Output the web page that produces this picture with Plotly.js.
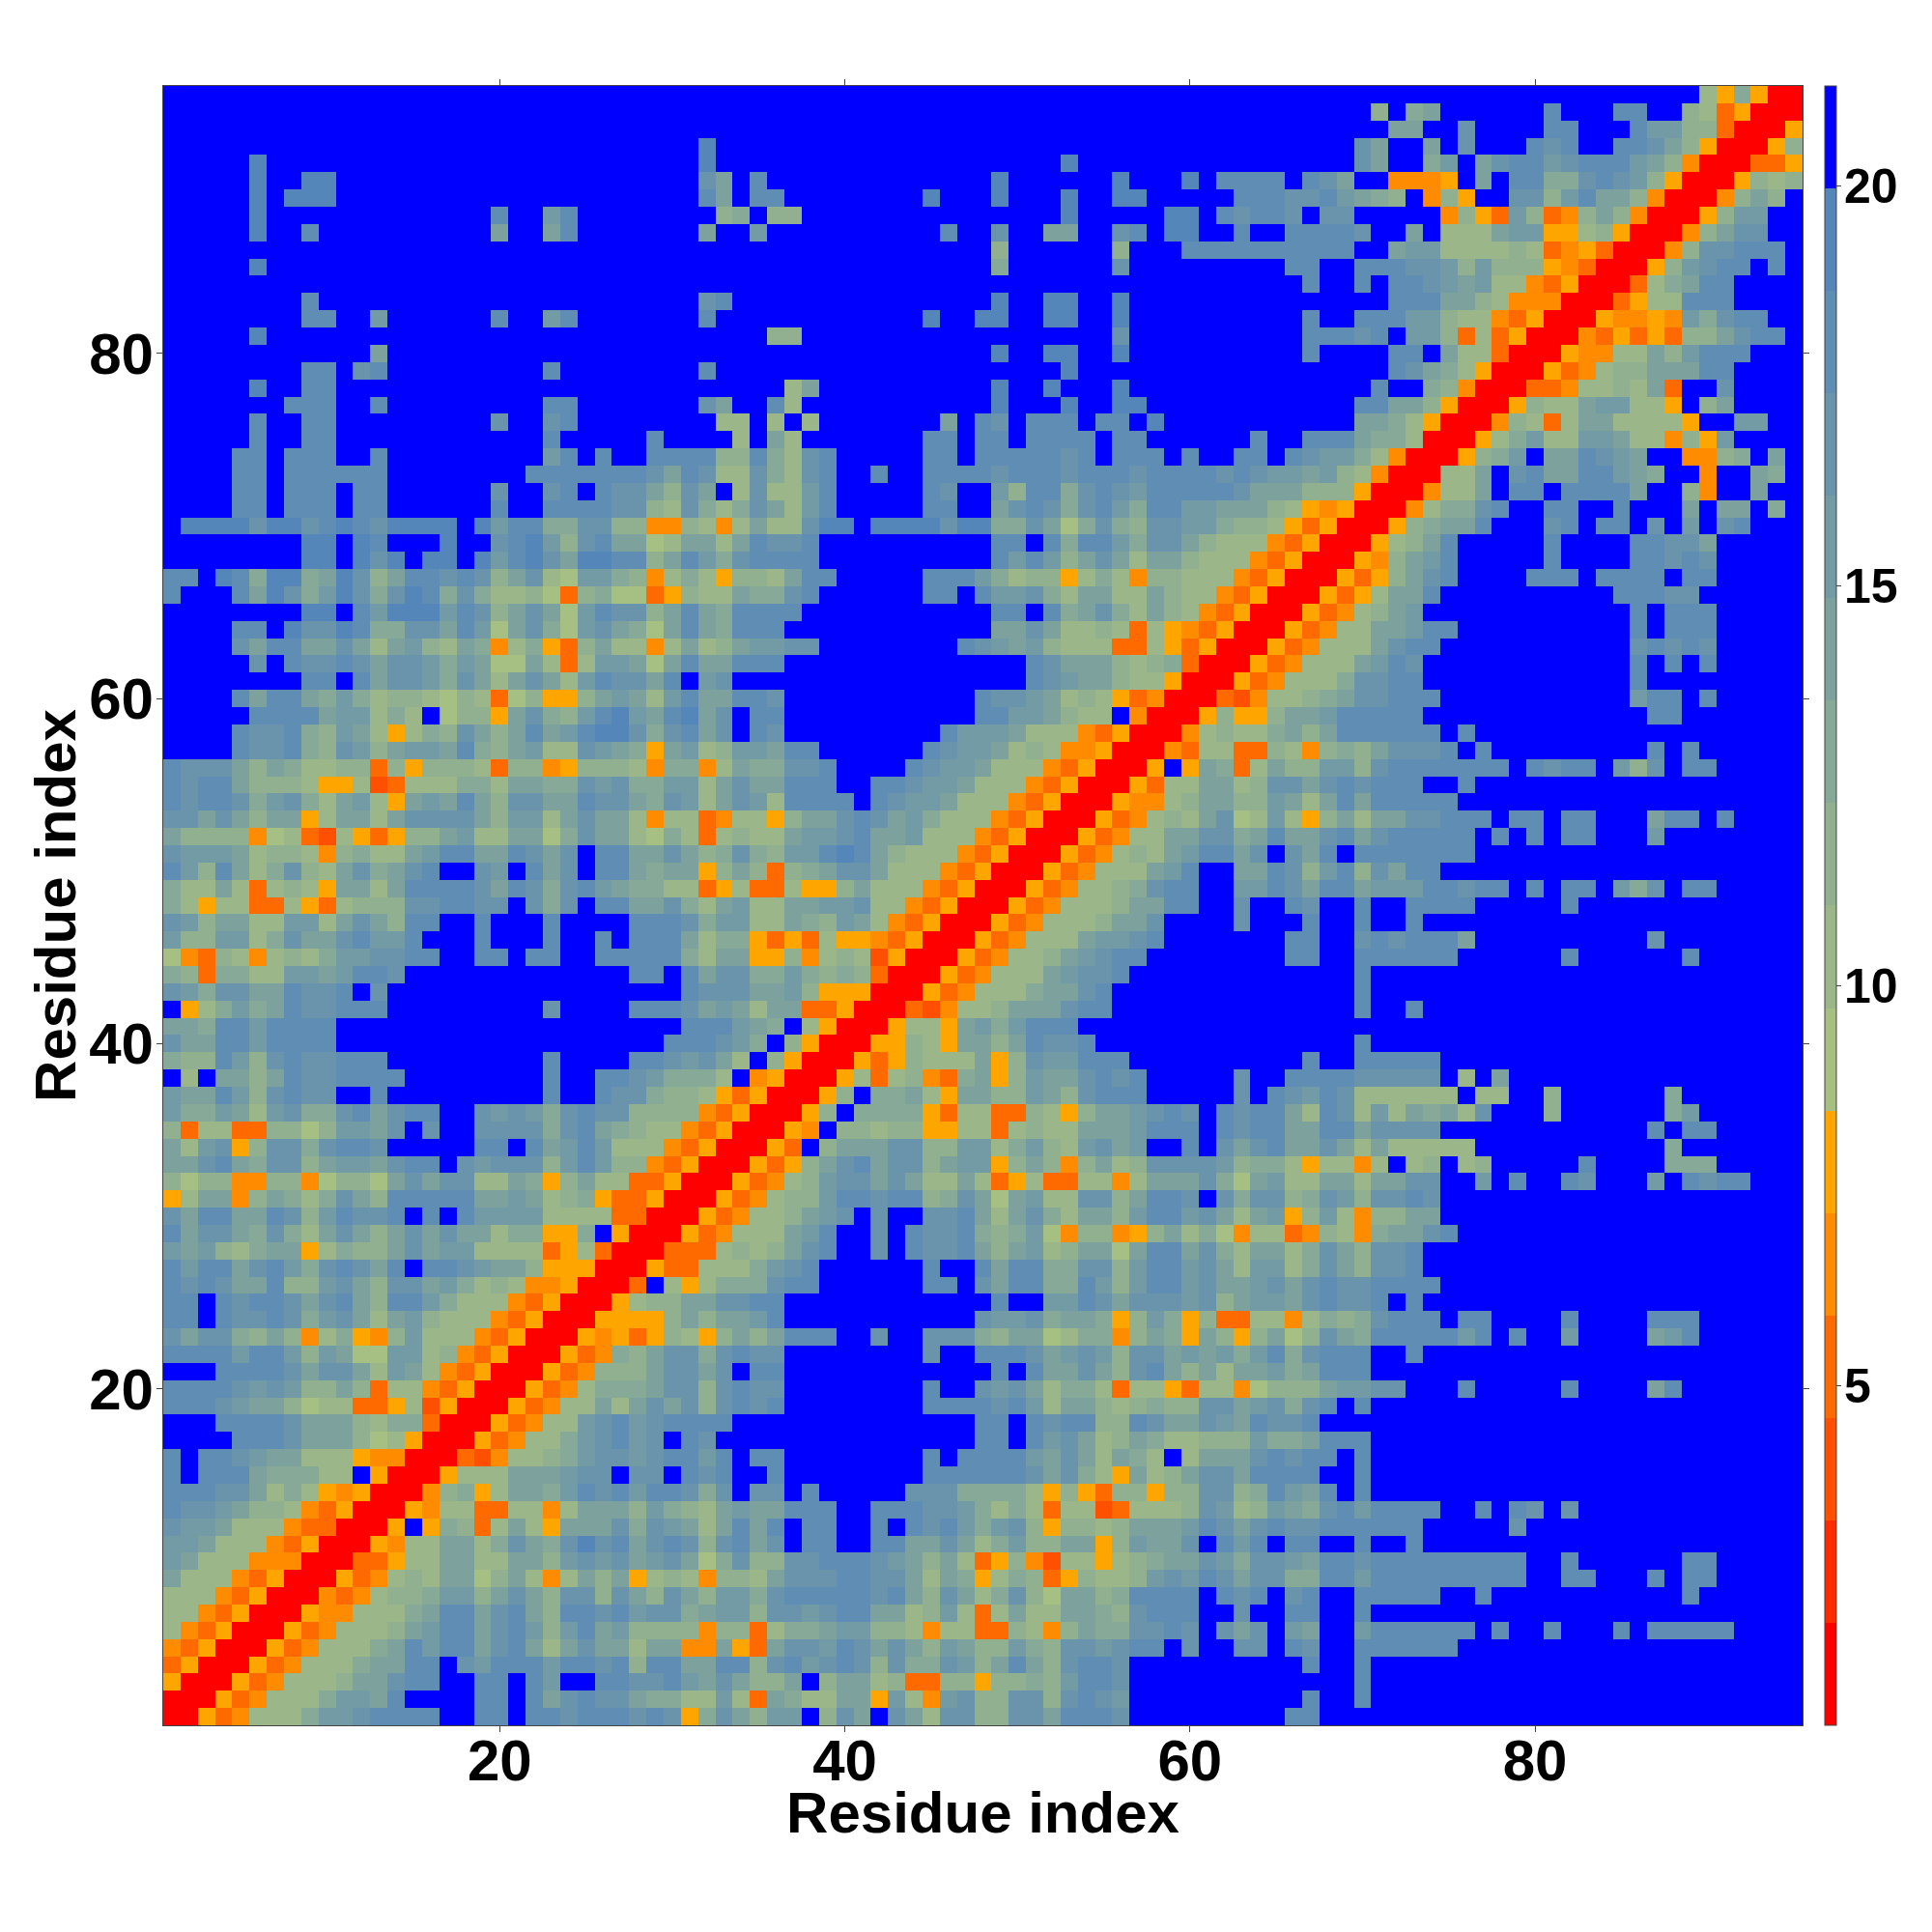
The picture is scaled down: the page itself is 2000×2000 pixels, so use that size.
<!DOCTYPE html>
<html>
<head>
<meta charset="utf-8">
<script src="https://cdn.plot.ly/plotly-3.0.1.min.js"></script>
<style>html,body{margin:0;padding:0;background:#fff}</style>
</head>
<body>
<div id="chart" style="width:2000px;height:2000px"></div>
<script>
// Distance band of each cell, one hex digit per residue, top row is residue 95.
const rows = [
"ffffffffff ffffffffff ffffffffff ffffffffff ffffffffff ffffffffff ffffffffff ffffffffff fffffffff7 59500",
"ffffffffff ffffffffff ffffffffff ffffffffff ffffffffff ffffffffff ffffffffff 8f9affffff dfffddff87 35000",
"ffffffffff ffffffffff ffffffffff ffffffffff ffffffffff ffffffffff ffffffffff faaffcffff ddfffdbb88 30005",
"ffffffffff ffffffffff ffffffffff feffffffff ffffffffff ffffffffff fffffffffc affafcfffd cdffddca85 00058",
"fffffeffff ffffffffff ffffffffff feffffffff ffffffffff ffefffffff fffffffffc aff9bfacdd bcdddba840 00335",
"fffffeffee ffffffffff ffffffffff fcafdfffff ffffffffef fffffefffe fddddfdcaf f4445fafdd 99cdcb8500 05878",
"fffffefeee ffffffffff ffffffffff fdafddffff ffffefffef ffeffeefff ffdddccdba 98f485ffcc 8bdaa84000 48a8f",
"fffffeffff fffffffffd ffbdffffff ff89f88fff ffffffffff ffefffffee fdcddcfccf ffff4853b8 348a840005 8bbff",
"fffffeffdf fffffffffa ffadffffff faffbfffff fffffdffcf faaffcdfee ffdffddddc ffaf777abb 5578500048 accff",
"ffffffffff ffffffffff ffffffffff ffffffffff ffffffff8f fffff8fffd dddddddddf fabb777787 345300048c cdddf",
"fffffeffff ffffffffff ffffffffff ffffffffff ffffffff9f fffffcffff fffffddffd ddccb8b888 54300058bc ddfdf",
"ffffffffff ffffffffff ffffffffff ffffffffff ffffffffff ffffffffff ffffffdffd fddcbab774 35000379ad dffff",
"ffffffffdf ffffffffff ffffffffff fcdfffffff ffffffffef feeffeffff ffffffffff fdddaa8744 40003577dd dffff",
"ffffffffdd ffbffffffd ffbdffffff fdffffffff ffffeffeef feeffeffff ffffffdffd ddbb877435 00054454b9 cddff",
"fffffeffff ffffffffff ffffffffff fffff88fff ffffffffff fffffcffff ffffffdddc dfbb837350 0043535388 acddf",
"ffffffffff ffafffffff ffffffffff ffffffffff ffffffffef feeffeffff ffffffdfff fddfa77300 054477a8bd ddfff",
"ffffffffdd fcdfffffff ffdfffffff fdffffffff ffffffffff ffefffffff ffffffffff fdca975000 534788aaad dffff",
"fffffeffdd ffffffffff ffffffffff ffffff7aff ffffffffef fefffeffff ffffffffff dff9840003 347787a3ff cffff",
"fffffffddd ffdfffffff ffddffffff fcaffd7fff ffffffffef ffeffeefff fffffffffd daa8500058 77abb775f8 affff",
"fffffdffdd fffffffffc ffcdffffff ff77f7f7ff fffffafdcf dddfddfeff fffffffffa a975000487 37aa77775f fbbff",
"fffffdffdd ffffffffff ffdfffffdf fff7fa7fff ffffddfddf ddddfddfff fffdffddda 997000579b 77bba77485 bffff",
"ffffddfddd ffdfffffff ffbdfdffdd dd88d97cdf ffffddfddd ddcdfdddfd ffddfdcbb9 74000589bf aadcbaff44 89faf",
"ffffddfddd dddfffffff fdddddddca dc77c97cdf fdffddddcd ddcdddcddd dcdcbbab87 400077afcd aaddba9ff4 ffa9f",
"ffffddfddd fddffffffc ffcdfdcca8 caf7c77bdf ffffdcffb8 dd9cdcbddd ddcaaa8885 000477afdd fddddaff84 ffaff",
"ffffddfddd fddffffffd ffddddcc87 c979ca7bdf ffffddffac dc9cdb9ddb baaa875450 004799cdff ddffdfffaf aaf9f",
"feeeeceecd edceeeefeb dd99cc8844 8747a77cee feeeecee99 ca69c98ccb b988753500 0589aadfff cdfddfcfbf cdfff",
"ffffffffee fedfffeffc deb8cdaa67 aa7adccdff ffffffffdd fd9ddb9cca 8777435000 578adfffff dffffddcca fffff",
"ffffffffee fecefeefeb decaeedd8a db9cddddff ffffffffdb db8aca7aa8 7774350005 48abdfffff dffffddcdc fffff",
"ddfed9ee9a ec8addcdc8 ac76bb9847 975887addf ffffdddb97 8857974887 7743500053 58acdffffd ddfddddfdd fffff",
"dfffdaec9b ec9ced9c97 7863896635 877a99cdff ffffddfdbb c97aa77a87 7435000535 7aadffffff ffffdddccf fffff",
"ffffffffee fdbeeebdc8 aca6bdcc8a da9ddddfff ffffffffdd fd9ac97a87 4350005347 8abfffffff fffffdfddd fffff",
"ffffddfecc ed99ccadb6 ac96bca96a da9dddffff ffffffffaa ca77873754 3500053477 aabddfffff fffffdfddd fffff",
"ffffcaddaa ca7ab87a94 79538a7747 a78abbccff ffffffdcba b877733753 5000534777 acddffffff fffffcdcdc fffff",
"fffffcfdcc dcaccb9ba6 6a737bba6a daadddffff ffffffffff dcaaa87893 000534777a bdcfffffff fffffdfdfd fffff",
"ffffffffdd fdaccb9ca7 aca7bdccad fbcfffffff ffffffffff dcbaa87750 005347779c cddfffffff fffffdffff fffff",
"ffffdadda9 b978876873 68558aba7b daaddcffff fffffffdcc ba78753400 03247789ac cdddffffff fffffbddfd fffff",
"fffffdddda bb797f6885 ac98bdebad eacfddffff fffffffddb ba877f4000 58558aabdd dddfffffff ffffffddff fffff",
"ffffdccd98 ba75798ca8 adabdeec9c dacfdcffff fffffdbbba 7774350004 78779a8add ddddfdffff ffffffffff fffff",
"ffffdccd98 cb8abbad98 ab77cba95a b78bbaddff ffffdcbba7 8744500043 7733874898 acccdfdfff ffffffdfdf fffff",
"dccca8a977 8838588873 8845888749 947a99ccdf fffdcbba77 74350005f5 a937a88bb8 cdddddddfd cddfb8cfdd fffff",
"dcdda88875 5723777997 aa99cbc99b b7acaadddf fddcbba777 4350005377 aa78ccacdc dddffdffff ffffffffff fffff",
"dcddc9bc97 ab75abada8 ccaadcca9c b7acb7dddd fdcbba7774 3500054478 aa88ba7ada dddddfffff ffffffffff fffff",
"ccaca8aa57 aa7acccca8 bb7acaa747 7347758aac dcab977743 5000534787 ac67b758a7 aaccdddfdd fddfffaddf dffff",
"a888846732 753588ab77 aa69caa769 737877abbc daab777435 00053477aa cc9adaacda cdddddfdfd fddfffbfff fffff",
"cbbba78874 8977abddaa dcacfddaac a89c98bbde da87774350 00534787ab ddacfcadfd ddddddffff ffffffffff fffff",
"db8da79c87 ac9acdffcb fdacfdda9a a58a8389ac ca77743500 0534777abd ffaadc8bd8 caddffffff ffffffffff fffff",
"977a737875 aa7addddca dc9cdba997 7357337558 a777435000 5347789cdd ffbbdcadda bbbddcddfd fddfb9cfdd fffff",
"9757733753 7888ccddcc fc9cfddaac 97ab77aabb c774350005 347778aadd ffcffdcffd ffddddffff fdffffffff fffff",
"cb8aa77bb7 aca8ddffdf ffdffffddd c9bb77a98b a743500053 47778aacff ffcfffdffd ffdfffffff ffffffffff fffff",
"b88bb79caa cdbbdfffdf ffdffdfddd a799535375 5435000534 777abbcdff fffffddffc dcdddaffff ffffffcfff fffff",
"6438747879 bbccddffdd fddffddddd 97aa558478 7250005347 78abcddfff fffffddffd dddddfffff fdffffffdf fffff",
"9839977bba bddcffffff fffffffddf dacc99b989 8300053477 7abccdffff fffffffffd ffffffffff ffffffffff fffff",
"cb9ccaadcc dfcfffffff ffffffffff dcccaab855 5000534777 9aacdfffff fffffffffd ffffffffff ffffffffff fffff",
"f579b9adcc dddfffffff ffcffffddd caba7aa335 000324778a aacddfffff fffffffffd ffdfffffff ffffffffff fffff",
"aa9ddbdddd ffffffffff ffffffffff dddba9f750 005775ab9b dddfffffff ffffffffff ffffffffff ffffffffff fffff",
"caaddbdddd ffffffffff fffffffffd ddcb9f8500 055875aa8a dccdffffff fffffffffd ffffffffff ffffffffff fffff",
"988db8cdcc dddfffffff ffdffffddc bca7f85000 5358777a58 cbbdddffff ffffffdffd ddddffffff ffffffffff fffff",
"f7faa8adcc ddddffffff ffdffddcb9 997f450005 7378439a58 baacdcdfff ffcffddddc ccccf7faff ffffffffff fffff",
"baadb8cdcc ffdfffffff ffdffdcc98 8753500058 f99a75aa88 ba8cdddfff ffcfdcbdc7 77777f77ff 8ffffff9ff fffff",
"b99ba7bc99 cdacddffcb cb9cdcc888 843500058f 9999537733 8758aabcdc fdcdda7dc7 b7a9a7cfff 8ffffff9bf fffff",
"8377338868 bbacfcffcc cc9cda9877 43500054f8 8788557737 877aaabddd fdcddaadda ccccffffff ffffffdfdd fffff",
"a7bc58cc9c ddcfffffdd fdabdb7774 3500053f8a aacc88bb79 b87bcabffd fcacdaaca7 a77777ffff fffffff9ff fffff",
"aacda9cc8a bbacddfcbc cc8bdb8843 50005358ac dacc8abb58 a848a78ccc cb89975774 7f78f78fff ffdffff999 fffff",
"8688448846 886acacc77 a958a77335 00053478bc caca77a735 7337747aaa c96ab77aa7 aaccffbfdf fdcfffbfdc ddfff",
"57aa48a979 ca8dddddaa ba78953350 00534788bd dcdd89ca6a b77cc8addc fc9cc89cb8 ccdcffffff ffffffffff fffff",
"caddaadc8b dccdfdfdbb bb77773300 0534778abc fcffccda7a c97aa8bddb ca7ab58b74 88aaffffff ffffffffff fffff",
"dacca9c97a ca8acacaa7 99559f5000 534777abdf fcfdccd989 b6488458a7 9647734874 9aacdfffff ffffffffff fffff",
"bab879aa57 988acabb77 7735730003 337878acdf fcfdccda8a b78aa6adda c97aa79ca8 ccdfffffff ffffffffff fffff",
"dbddacdb9c dcadfddcba a855500053 37779bcdff ffffdffdad d99cc8bddb ca7bb79ca8 ccdfffffff ffffffffff fffff",
"dcdcaad88b ca8ccab978 74450003f7 57999cddff ffffddfcad d99db8bddb caabcacdcc ddddffffff ffffffffff fffff",
"ddfdcddcac da8ddb9777 4350005788 aaccddffff ffffffffdf fbbdcacccb c8abbacdcc dfdfffffff ffffffffff fffff",
"ddfdccdc9b ca7ab87774 3500055558 a8aabdffff fffffffcbb c9aa958b95 8337747989 cdddfddfff fdffffdddf fffff",
"cacc98a847 9548b77743 5000545358 758a8adddf fcffccc98a a679948a95 a858a68ca9 dddddbdfdf fbffffabdf fffff",
"ddddbddb8b a66bb78435 00053498ac c9cdccffff ffffcffddd cabcb8ccab ab9bd9cddd ffdfffffff ffffffffff fffff",
"fffddddcac ca7ba74350 00534888ac cacfddffff ffffffffdf daaca8cda8 a7aab9addd ffffffffff ffffffffff fffff",
"ddddcbcb88 a837743500 05347999ac c8cdccffff ffffdffcbc a799737753 7746888abb ccfffdffff fdffffadff fffff",
"dddcbaa867 7335725000 53477a7aca c8cdcdffff ffffddddcd b7aa878988 ccabc9cdfd ffffffffff ffffffffff fffff",
"fffddddcaa a879930005 3477bcdbcd dddfffffff fffffffddf dcdd88dcaa cbadccdfff ffffffffff ffffffffff fffff",
"ffffdddcaa a867500053 4779bcdbcf dcffffffff fffffffddf dbca78a977 888b99addd ffffffffff ffffffffff fffff",
"dfddcbaa77 7544000324 7789bccbcd dbdfddffff ffffdfdddd baca7a97f7 aaacdcddfd ffffffffff ffffffffff fffff",
"dfddda9997 7f50005777 aaabccfccf dcdffdffff ffffdddddd cac975a78a ccaddddffd ffffffffff ffffffffff fffff",
"dddcca7975 4500048957 aa9bdcdbdd c9cfccfdff fffccc9999 7585388588 cc89dbadfd ffffffffff ffffffffff fffff",
"dccba88743 5000547733 7747aaa8b9 87abaadddf fdddccb979 7377237778 cb78ba9cdb ddddffdfdc fcffffffff fffff",
"cbba777433 0005f59837 a75aaac9cb a7adadfddf fdfdcdb9bc 858878aaab dcacdccddd dddfffffcf ffffffffff fffff",
"bba7774350 005477aa79 ca9cecdacd c8cdacfddf fddaaca79b 88aa58baac fdbdfddffd ffdfffffff ffffffffff fffff",
"ba77744400 033577aa77 aa8bcbcabc a69c88ccdd dcba8a7358 42775789aa cb9ccbaddc dddddddddf fdffffffdd fffff",
"a777435000 534787aa68 a747a8a578 74887acccd dcca7a9579 8358778bcb dcacc99ddb dddddddddf fddfffdfdd fffff",
"7774350004 347889bb8a ca8cc8ca8c a8bb9cdddd dcda8ca79c 86aa89dddd fdcdfcdffd ddddffdfff ffffffffdf fffff",
"7743500054 47779addac da8ddcdbcc 9abb8ccbcd daa78b737a 77aa98cddd ffcffddffd ffffffffff ffffffffff fffff",
"7435000534 7778abddac db8bdab888 84883799ab b887477338 748a99ccdc fcacfbaffb ddddddfdff dfffdfdddd dffff",
"4350005347 779adbddac da7acaa7aa 44a53accbd caca8ba88b 98ccbcddfc ffccfdcffd dddddfffff ffffffffff fffff",
"3500053477 79aaddfcbd ddbddcd8dd aadd8cdbcd c8c99cb8ad a8cddcffff ffffffdffd ffffffffff ffffffffff fffff",
"5000534777 8aacddffdd fdbffddccd baca88af8a a783388588 98bddcffff fffffffffd ffffffffff ffffffffff fffff",
"0005347779 bbadffffdd fdacdcca99 77b73a977a a5b74bc88c c8cdcbffff ffffffdffd ffffffffff ffffffffff fffff",
"005347779b bcddddffdd fddcdddcdc 59ca8bbf8c afca7cc88c cadddcffff fffffddfff ffffffffff ffffffffff fffff"
];
// Distance in each band (middle of the band).
const bandValues = [1.39,2.67,3.95,5.23,6.51,7.80,9.08,10.36,11.64,12.92,14.20,15.48,16.76,18.04,19.32,20.61];
const bandColors = ["#ff0000","#ff2a00","#ff4f00","#ff6a00","#ff8c00","#ffa500","#a6bf82","#9bb789","#91b090","#87a997","#7da29e","#739ba5","#6994ac","#5f8db3","#5586ba","#0000ff"];
const zMin = 0.75, zMax = 21.25;
const tickValues = [20,40,60,80];
const barTickValues = [5,10,15,20];
const axisTitle = "Residue index";
const fontFamily = '"Liberation Sans", Arial, sans-serif';

const z = rows.map(r => {
  const s = r.replace(/ /g,"").padEnd(95,"f").slice(0,95);
  return Array.from(s, c => bandValues[parseInt(c,16)]);
}).reverse();
const idx = z.map((_, i) => i + 1);
const colorscale = [];
bandColors.forEach((c,i) => { colorscale.push([i/16,c]); colorscale.push([(i+1)/16,c]); });

const axisBase = {
  range:[0.5,95.5], tickmode:"array", tickvals:tickValues, ticktext:tickValues.map(String),
  ticks:"outside", ticklen:6, tickwidth:1, tickcolor:"#444",
  showline:true, linewidth:1, linecolor:"#444", mirror:"ticks",
  showgrid:false, zeroline:false, automargin:false,
  tickfont:{family:fontFamily,size:60,weight:700,color:"#000"}
};
Plotly.newPlot("chart",[{
  type:"heatmap", x:idx, y:idx, z:z, zmin:zMin, zmax:zMax, zsmooth:false, colorscale:colorscale, hoverongaps:false,
  colorbar:{
    x:1.0135, xanchor:"left", xref:"paper", y:0.5, yanchor:"middle", yref:"paper",
    len:1, lenmode:"fraction", thickness:12.4, thicknessmode:"pixels", xpad:0, ypad:0,
    outlinewidth:1, outlinecolor:"#444", ticks:"outside", ticklen:5, tickwidth:1, tickcolor:"#444",
    tickmode:"array", tickvals:barTickValues, ticktext:barTickValues.map(String),
    tickfont:{family:fontFamily,size:50,weight:700,color:"#000"}
  }
}],{
  width:2000, height:2000, autosize:false,
  margin:{l:169,r:134,t:89,b:214,pad:0},
  paper_bgcolor:"#fff", plot_bgcolor:"#fff",
  xaxis:Object.assign({},axisBase,{ticklabelstandoff:-22,title:{text:axisTitle,standoff:0,font:{family:fontFamily,size:60,weight:700,color:"#000"}}}),
  yaxis:Object.assign({},axisBase,{ticklabelstandoff:-9,title:{text:axisTitle,standoff:0,font:{family:fontFamily,size:60,weight:700,color:"#000"}}})
},{displayModeBar:false,staticPlot:true}).then(() => {
  document.querySelectorAll(".colorbar text").forEach(t => {
    t.setAttribute("x", parseFloat(t.getAttribute("x") || 0) - 7);
  });
  const nudge = (sel, dx, dy) => {
    const t = document.querySelector(sel);
    if (t) t.setAttribute("transform", "translate(" + dx + "," + dy + ") " + (t.getAttribute("transform") || ""));
  };
  nudge(".xtitle", 0, -13);
  nudge(".ytitle", 6, 0);
});
</script>
</body>
</html>
